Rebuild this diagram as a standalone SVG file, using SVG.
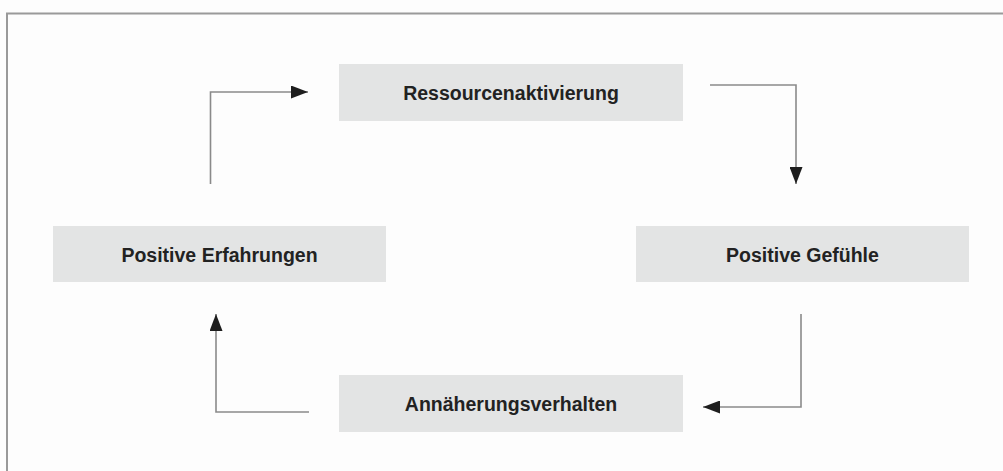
<svg xmlns="http://www.w3.org/2000/svg" width="1003" height="471" viewBox="0 0 1003 471">
  <style>
    .box { fill: #e3e4e4; }
    .label { font-family: "Liberation Sans", Arial, sans-serif; font-weight: bold; font-size: 19.5px; fill: #222222; text-anchor: middle; }
    .conn { fill: none; stroke: #8a8a8a; stroke-width: 1.6; }
    .frame { fill: none; stroke: #9a9a9a; stroke-width: 2; }
  </style>
  <defs>
    <marker id="arrow" markerUnits="userSpaceOnUse" markerWidth="18" markerHeight="13" refX="17" refY="6.5" orient="auto">
      <path d="M0,0 L17,6.5 L0,13 Z" fill="#1e1e1e"/>
    </marker>
  </defs>
  <rect width="1003" height="471" fill="#fdfdfd"/>
  <path class="frame" d="M7,471 L7,13.5 L1003,13.5"/>

  <g id="node-ressourcenaktivierung">
    <rect class="box" x="339" y="64" width="344" height="57"/>
    <text class="label" x="511" y="100">Ressourcenaktivierung</text>
  </g>
  <g id="node-positive-gefuehle">
    <rect class="box" x="636" y="226" width="333" height="56"/>
    <text class="label" x="802.5" y="261.5">Positive Gefühle</text>
  </g>
  <g id="node-annaeherungsverhalten">
    <rect class="box" x="339" y="375" width="344" height="57"/>
    <text class="label" x="511" y="411">Annäherungsverhalten</text>
  </g>
  <g id="node-positive-erfahrungen">
    <rect class="box" x="53" y="226" width="333" height="56"/>
    <text class="label" x="219.5" y="261.5">Positive Erfahrungen</text>
  </g>

  <g id="connectors">
    <path class="conn" d="M210.5,184 L210.5,92 L308,92" marker-end="url(#arrow)"/>
    <path class="conn" d="M710,85 L796,85 L796,184" marker-end="url(#arrow)"/>
    <path class="conn" d="M801,314 L801,407 L703,407" marker-end="url(#arrow)"/>
    <path class="conn" d="M309,412 L216,412 L216,314" marker-end="url(#arrow)"/>
  </g>
</svg>
